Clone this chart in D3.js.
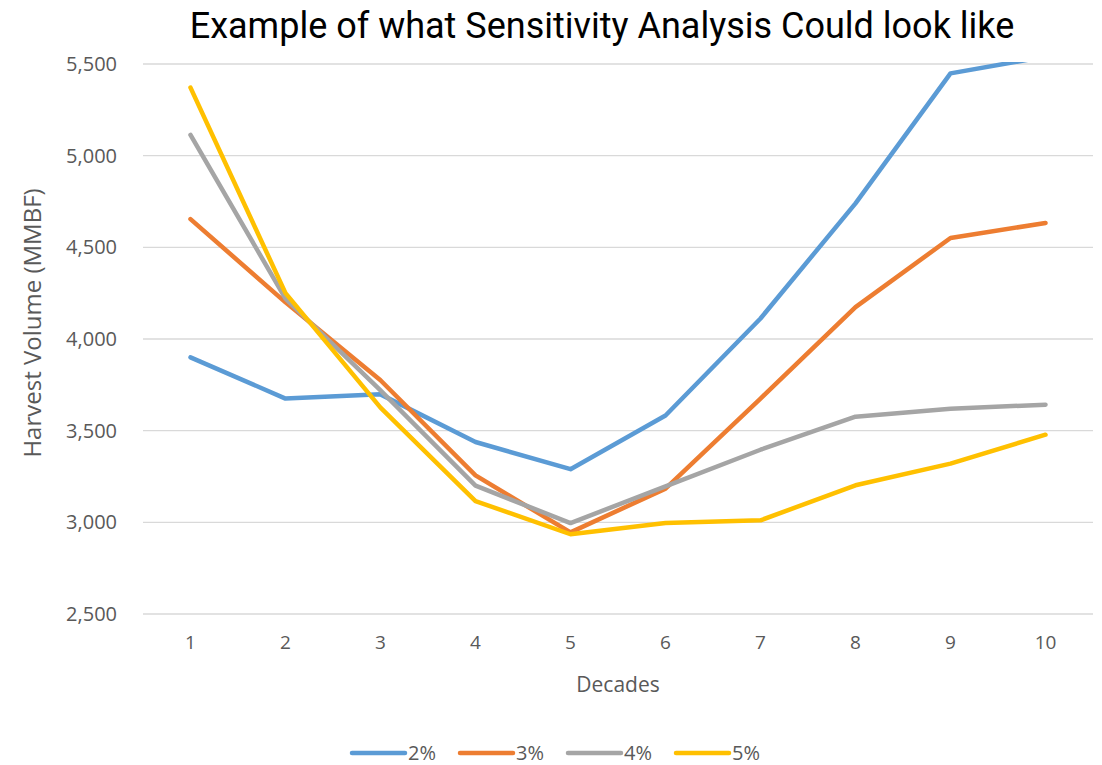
<!DOCTYPE html>
<html>
<head>
<meta charset="utf-8">
<script src="https://cdn.jsdelivr.net/npm/d3@7"></script>
<style>
  body { margin: 0; background: #fff; }
  svg { display: block; }
  text { font-family: "Open Sans", sans-serif; }
</style>
</head>
<body>
<svg id="chart" width="1102" height="765"></svg>
<script>
// decades on the x axis
var decades = [1, 2, 3, 4, 5, 6, 7, 8, 9, 10];
var yTicks = [2500, 3000, 3500, 4000, 4500, 5000, 5500];

// harvest volume (MMBF) per discount rate
var rate2 = [3900, 3675, 3698, 3438, 3290, 3583, 4112, 4740, 5449, 5540];
var rate3 = [4654, 4200, 3775, 3256, 2945, 3184, 3675, 4174, 4551, 4633];
var rate4 = [5113, 4220, 3720, 3200, 2996, 3196, 3396, 3576, 3620, 3642];
var rate5 = [5371, 4250, 3626, 3116, 2935, 2996, 3011, 3202, 3320, 3478];

var seriesNames = ['2%', '3%', '4%', '5%'];
var seriesColors = ['#5B9BD5', '#ED7D31', '#A5A5A5', '#FFC000'];
var allSeries = [rate2, rate3, rate4, rate5];

var svg = d3.select('#chart');
var plotLeft = 143, plotRight = 1093, plotTop = 64, plotBottom = 614;

var x = d3.scaleBand().domain(decades).range([plotLeft, plotRight]);
var y = d3.scaleLinear().domain([2500, 5500]).range([plotBottom, plotTop]);

// title
svg.append('text')
    .attr('x', 602).attr('y', 38)
    .attr('text-anchor', 'middle')
    .attr('font-size', 36)
    .attr('fill', '#000')
    .style('font-family', 'Roboto, sans-serif')
    .text('Example of what Sensitivity Analysis Could look like');

// gridlines
svg.append('g').selectAll('line')
    .data(yTicks)
  .enter().append('line')
    .attr('x1', plotLeft).attr('x2', plotRight)
    .attr('y1', function(d) { return y(d); })
    .attr('y2', function(d) { return y(d); })
    .attr('stroke', '#D9D9D9')
    .attr('stroke-width', 1.3);

// y axis labels
var yAxis = d3.axisLeft(y).tickValues(yTicks).tickFormat(d3.format(',')).tickSize(0).tickPadding(26);
var gy = svg.append('g').attr('transform', 'translate(' + plotLeft + ',0)').call(yAxis);
gy.select('.domain').remove();
gy.selectAll('text').attr('font-size', 20).attr('fill', '#595959')
    .style('font-family', '"Open Sans", sans-serif');

// x axis labels
var xAxis = d3.axisBottom(x).tickSize(0).tickPadding(22);
var gx = svg.append('g').attr('transform', 'translate(0,' + plotBottom + ')').call(xAxis);
gx.select('.domain').remove();
gx.selectAll('text').attr('font-size', 19).attr('fill', '#595959')
    .style('font-family', '"Open Sans", sans-serif');

// axis titles
svg.append('text')
    .attr('x', 618).attr('y', 692)
    .attr('text-anchor', 'middle')
    .attr('font-size', 21).attr('fill', '#595959')
    .text('Decades');

svg.append('text')
    .attr('transform', 'translate(41,323) rotate(-90)')
    .attr('text-anchor', 'middle')
    .attr('font-size', 24).attr('fill', '#595959')
    .text('Harvest Volume (MMBF)');

// clip lines to plot area
svg.append('clipPath').attr('id', 'plot-clip')
  .append('rect')
    .attr('x', plotLeft).attr('y', plotTop - 2)
    .attr('width', plotRight - plotLeft).attr('height', plotBottom - plotTop + 4);

var line = d3.line()
    .x(function(d, i) { return x(decades[i]) + x.bandwidth() / 2; })
    .y(function(d) { return y(d); });

svg.append('g').attr('clip-path', 'url(#plot-clip)').selectAll('path')
    .data(allSeries)
  .enter().append('path')
    .attr('d', line)
    .attr('fill', 'none')
    .attr('stroke', function(d, i) { return seriesColors[i]; })
    .attr('stroke-width', 4.5)
    .attr('stroke-linecap', 'round')
    .attr('stroke-linejoin', 'round');

// legend
var legend = svg.append('g').attr('transform', 'translate(350,753)');
var item = legend.selectAll('g')
    .data(seriesNames)
  .enter().append('g')
    .attr('transform', function(d, i) { return 'translate(' + (i * 108) + ',0)'; });
item.append('line')
    .attr('x1', 2).attr('x2', 55)
    .attr('stroke', function(d, i) { return seriesColors[i]; })
    .attr('stroke-width', 4.5)
    .attr('stroke-linecap', 'round');
item.append('text')
    .attr('x', 58).attr('y', 7)
    .attr('font-size', 20).attr('fill', '#595959')
    .text(function(d) { return d; });
</script>
</body>
</html>
